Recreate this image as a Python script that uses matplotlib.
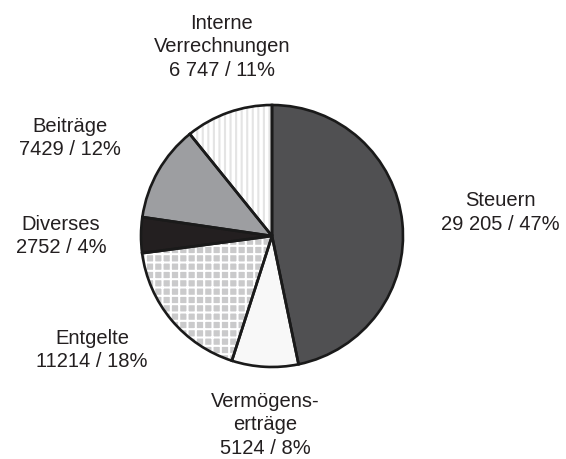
import matplotlib
matplotlib.use("Agg")
import matplotlib.pyplot as plt

labels = ["Steuern", "Vermögens-\nerträge", "Entgelte", "Diverses", "Beiträge",
          "Interne\nVerrechnungen"]
values = [29205, 5124, 11214, 2752, 7429, 6747]
value_text = ["29 205", "5124", "11214", "2752", "7429", "6 747"]
percents = [47, 8, 18, 4, 12, 11]

face_colors = ["#505052", "#f8f8f8", "#cacacb", "#231f20", "#9d9ea1", "#ffffff"]
hatch_colors = ["#505052", "#f8f8f8", "#ffffff", "#231f20", "#9d9ea1", "#e4e4e4"]
hatches = [None, None, "++", None, None, "|||"]

# label anchor: centre x, last-line baseline y (pixels from top)
label_pos = [(500, 230), (265, 454), (92, 367), (61, 253), (70, 155), (222, 76)]

plt.rcParams["font.family"] = ["Liberation Sans", "DejaVu Sans"]
plt.rcParams["hatch.linewidth"] = 1.5

W, H = 566, 459
fig = plt.figure(figsize=(W / 100, H / 100), dpi=100)
ax = fig.add_axes([0, 0, 1, 1])

center = (272, H - 236)
radius = 131

# fill + hatch pass
wedges, _ = ax.pie(values, startangle=90, counterclock=False, center=center,
                   radius=radius, colors=face_colors, frame=True,
                   wedgeprops=dict(linewidth=0))
for w, hc, h in zip(wedges, hatch_colors, hatches):
    w.set_edgecolor(hc)
    w.set_linewidth(0)
    if h:
        w.set_hatch(h)

# outline pass
ax.pie(values, startangle=90, counterclock=False, center=center, radius=radius,
       frame=True,
       wedgeprops=dict(fill=False, edgecolor="#1a1a1a", linewidth=1.9))

ax.set_xlim(0, W)
ax.set_ylim(0, H)
ax.set_aspect("equal")
ax.axis("off")

for lab, vt, p, (x, y) in zip(labels, value_text, percents, label_pos):
    ax.text(x, H - y, f"{lab}\n{vt} / {p}%", ha="center", va="baseline",
            multialignment="center", fontsize=14.5, color="#231f20",
            linespacing=1.3)

fig.savefig("out.png", dpi=100)
